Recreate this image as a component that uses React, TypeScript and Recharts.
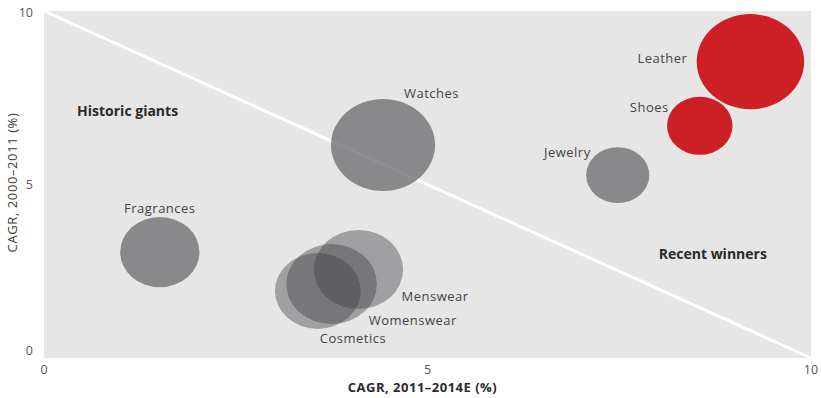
import { ScatterChart, Scatter, XAxis, YAxis, ZAxis, CartesianGrid, ReferenceLine, ReferenceDot, Label } from 'recharts';

// Luxury segments: recent vs historic growth, bubble area = segment size
const categories = ['Leather', 'Shoes', 'Jewelry', 'Watches', 'Fragrances', 'Menswear', 'Womenswear', 'Cosmetics'];
const recentGrowth = [9.21, 8.55, 7.48, 4.42, 1.51, 4.1, 3.75, 3.57];
const historicGrowth = [8.54, 6.69, 5.27, 6.14, 3.05, 2.55, 2.13, 1.93];
const segmentSize = [22.6, 8.4, 7.8, 21.2, 12.3, 15.6, 16.0, 14.4];
const segmentGroup = ['winner', 'winner', 'core', 'core', 'core', 'apparel', 'apparel', 'apparel'];

const xTicks = [0, 5, 10];
const yTicks = [0, 5, 10];

const points = categories.map((name, i) => ({
  name,
  x: recentGrowth[i],
  y: historicGrowth[i],
  z: segmentSize[i],
  group: segmentGroup[i],
}));

const FONT = "'Open Sans', sans-serif";

const groupStyle: Record<string, { fill: string; opacity: number }> = {
  winner: { fill: '#cc2024', opacity: 1 },
  core: { fill: '#727276', opacity: 0.8 },
  apparel: { fill: '#3c3c42', opacity: 0.41 },
};

// where each name sits relative to its bubble centre
const labelSpot: Record<string, { dx: number; dy: number; anchor: 'start' | 'middle' | 'end' }> = {
  Leather: { dx: -63, dy: -4, anchor: 'end' },
  Shoes: { dx: -31, dy: -19, anchor: 'end' },
  Jewelry: { dx: -27, dy: -23, anchor: 'end' },
  Watches: { dx: 21, dy: -52, anchor: 'start' },
  Fragrances: { dx: 0, dy: -44, anchor: 'middle' },
  Menswear: { dx: 43, dy: 26, anchor: 'start' },
  Womenswear: { dx: 37, dy: 36, anchor: 'start' },
  Cosmetics: { dx: 2, dy: 47, anchor: 'start' },
};

function Bubble(props: any) {
  const { cx, cy, width, payload } = props;
  const r = width / 2;
  const style = groupStyle[payload.group];
  const spot = labelSpot[payload.name];
  return (
    <g>
      <ellipse cx={cx} cy={cy} rx={r * 1.13} ry={r} fill={style.fill} fillOpacity={style.opacity} />
      <text
        x={cx + spot.dx}
        y={cy + spot.dy}
        textAnchor={spot.anchor}
        dominantBaseline="central"
        fontFamily={FONT}
        fontSize={13}
        letterSpacing={0.5}
        fill="#444"
      >
        {payload.name}
      </text>
    </g>
  );
}

function XTick(props: any) {
  const { x, y, payload } = props;
  return (
    <text x={x} y={y + 11} textAnchor="middle" dominantBaseline="central" fontFamily={FONT} fontSize={12.5} fill="#555">
      {payload.value}
    </text>
  );
}

function YTick(props: any) {
  const { x, y, payload } = props;
  const dy = payload.value === 0 ? -8 : payload.value === 10 ? 1 : 0;
  return (
    <text x={x - 11} y={y + dy} textAnchor="end" dominantBaseline="central" fontFamily={FONT} fontSize={12.5} fill="#555">
      {payload.value}
    </text>
  );
}

function Callout(text: string) {
  return (p: any) => (
    <text x={p.cx} y={p.cy} textAnchor="middle" dominantBaseline="central" fontFamily={FONT} fontSize={14} fontWeight={700} fill="#2a2a2a">
      {text}
    </text>
  );
}

export default function App() {
  return (
    <div style={{ position: 'absolute', left: 0, top: 0, width: 821, height: 398, background: '#fff' }}>
      <ScatterChart width={821} height={398} margin={{ top: 11, right: 10, bottom: 0, left: 0 }}>
        <CartesianGrid horizontal={false} vertical={false} fill="#e6e6e6" fillOpacity={1} />
        <XAxis
          type="number"
          dataKey="x"
          domain={[0, 10]}
          ticks={xTicks}
          axisLine={false}
          tickLine={false}
          tickSize={0}
          tickMargin={0}
          height={40}
          tick={<XTick />}
        >
          <Label
            content={(p: any) => (
              <text
                x={p.viewBox.x + p.viewBox.width / 2 - 5}
                y={p.viewBox.y + 29}
                textAnchor="middle"
                dominantBaseline="central"
                fontFamily={FONT}
                fontSize={13}
                fontWeight={700}
                letterSpacing={0.5}
                fill="#2a2a2a"
              >
                CAGR, 2011–2014E (%)
              </text>
            )}
          />
        </XAxis>
        <YAxis
          type="number"
          dataKey="y"
          domain={[0, 10]}
          ticks={yTicks}
          axisLine={false}
          tickLine={false}
          tickSize={0}
          tickMargin={0}
          width={44}
          tick={<YTick />}
        >
          <Label
            content={(p: any) => {
              const cx = 12;
              const cy = p.viewBox.y + p.viewBox.height / 2 - 2;
              return (
                <text
                  x={cx}
                  y={cy}
                  transform={`rotate(-90 ${cx} ${cy})`}
                  textAnchor="middle"
                  dominantBaseline="central"
                  fontFamily={FONT}
                  fontSize={13}
                  letterSpacing={0.6}
                  fill="#3a3a3a"
                >
                  CAGR, 2000–2011 (%)
                </text>
              );
            }}
          />
        </YAxis>
        <ZAxis type="number" dataKey="z" domain={[0, 25]} range={[0, 2500 * Math.PI]} />
        <ReferenceLine
          segment={[
            { x: 0, y: 10 },
            { x: 10, y: 0 },
          ]}
          stroke="#ffffff"
          strokeWidth={3}
        />
        <Scatter data={points.filter((p) => p.group === 'apparel')} shape={<Bubble />} isAnimationActive={false} />
        <Scatter data={points.filter((p) => p.group === 'core')} shape={<Bubble />} isAnimationActive={false} />
        <Scatter data={points.filter((p) => p.group === 'winner')} shape={<Bubble />} isAnimationActive={false} />
        <ReferenceDot x={1.09} y={7.12} r={0} shape={Callout('Historic giants')} />
        <ReferenceDot x={8.72} y={3.0} r={0} shape={Callout('Recent winners')} />
      </ScatterChart>
    </div>
  );
}
